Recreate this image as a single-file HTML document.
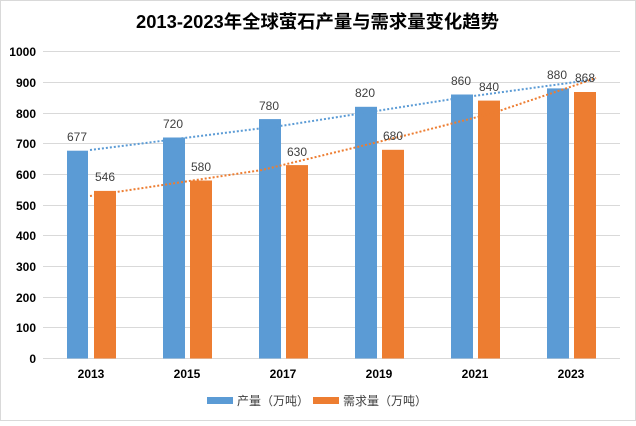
<!DOCTYPE html><html><head><meta charset="utf-8"><style>
body{margin:0;background:#fff}
svg text{font-family:"Liberation Sans","Noto Sans CJK SC",sans-serif}
</style></head><body>
<svg width="636" height="421" xmlns="http://www.w3.org/2000/svg">
<rect x="0.5" y="0.5" width="635" height="420" fill="#fff" stroke="#d9d9d9"/>
<text x="136" y="28" font-size="18" font-weight="bold" fill="#000" textLength="363" lengthAdjust="spacingAndGlyphs">2013-2023年全球萤石产量与需求量变化趋势</text>
<g stroke="#d9d9d9" stroke-width="1">
<line x1="43" x2="620" y1="51.5" y2="51.5"/><line x1="43" x2="620" y1="82.5" y2="82.5"/>
<line x1="43" x2="620" y1="113.5" y2="113.5"/><line x1="43" x2="620" y1="143.5" y2="143.5"/>
<line x1="43" x2="620" y1="174.5" y2="174.5"/><line x1="43" x2="620" y1="205.5" y2="205.5"/>
<line x1="43" x2="620" y1="235.5" y2="235.5"/><line x1="43" x2="620" y1="266.5" y2="266.5"/>
<line x1="43" x2="620" y1="297.5" y2="297.5"/><line x1="43" x2="620" y1="327.5" y2="327.5"/>
<line x1="43" x2="620" y1="358.5" y2="358.5"/>
</g>
<g font-size="12" font-weight="bold" text-anchor="end" fill="#000">
<text x="36" y="56">1000</text><text x="36" y="87">900</text><text x="36" y="118">800</text><text x="36" y="148">700</text><text x="36" y="179">600</text><text x="36" y="210">500</text><text x="36" y="240">400</text><text x="36" y="271">300</text><text x="36" y="302">200</text><text x="36" y="332">100</text><text x="36" y="363">0</text>
</g>
<g fill="#5b9bd5">
<rect x="67" y="150.7" width="21" height="207.8"/>
<rect x="163" y="137.5" width="22" height="221"/>
<rect x="259" y="119.1" width="22" height="239.4"/>
<rect x="355" y="106.8" width="22" height="251.7"/>
<rect x="451" y="94.5" width="22" height="264"/>
<rect x="547" y="88.4" width="22" height="270.1"/>
</g>
<g fill="#ed7d31">
<rect x="94" y="190.9" width="22" height="167.6"/>
<rect x="190" y="180.5" width="22" height="178"/>
<rect x="286" y="165.1" width="22" height="193.4"/>
<rect x="382" y="149.8" width="22" height="208.7"/>
<rect x="478" y="100.6" width="22" height="257.9"/>
<rect x="574" y="92.0" width="22" height="266.5"/>
</g>
<polyline points="90,150 287,125 459,98 576,82 596,79" fill="none" stroke="#5b9bd5" stroke-width="2" stroke-dasharray="2,2"/>
<polyline points="90,196 262,170 407,135 493,113 576,85 596,78" fill="none" stroke="#ed7d31" stroke-width="2" stroke-dasharray="2,2"/>
<g font-size="12" fill="#404040" text-anchor="middle">
<text x="77" y="141">677</text><text x="173" y="128">720</text><text x="269" y="110">780</text><text x="365" y="97">820</text><text x="461" y="85">860</text><text x="557" y="79">880</text>
<text x="105" y="181">546</text><text x="201" y="171">580</text><text x="297" y="156">630</text><text x="393" y="140">680</text><text x="489" y="91">840</text><text x="585" y="82">868</text>
</g>
<g font-size="12" font-weight="bold" text-anchor="middle" fill="#000">
<text x="91" y="378">2013</text><text x="187" y="378">2015</text><text x="283" y="378">2017</text><text x="379" y="378">2019</text><text x="475" y="378">2021</text><text x="571" y="378">2023</text>
</g>
<rect x="207" y="397" width="26" height="7" fill="#5b9bd5"/>
<text x="237" y="405" font-size="12" fill="#404040">产量（万吨）</text>
<rect x="313" y="397" width="26" height="7" fill="#ed7d31"/>
<text x="343" y="405" font-size="12" fill="#404040">需求量（万吨）</text>
</svg>
</body></html>
